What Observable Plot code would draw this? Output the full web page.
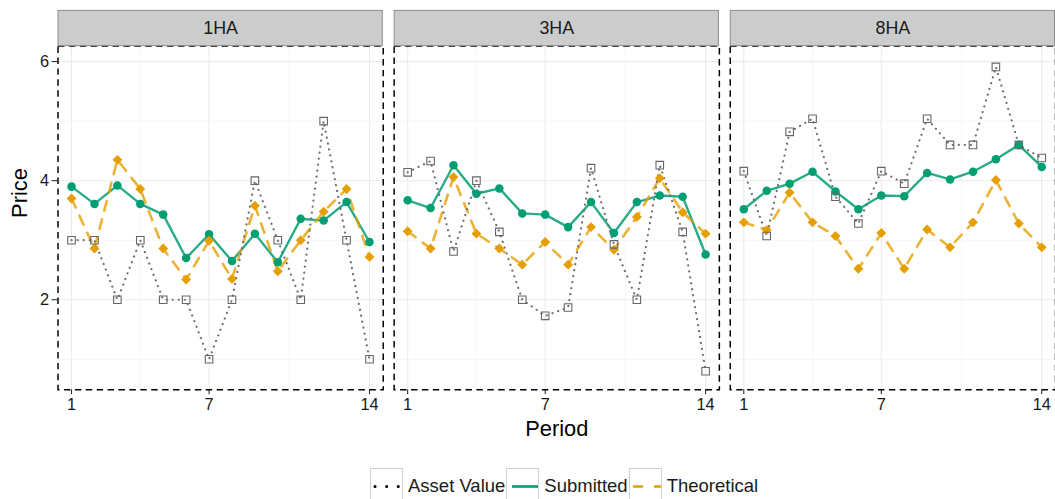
<!DOCTYPE html>
<html><head><meta charset="utf-8">
<script src="https://cdn.jsdelivr.net/npm/d3@7"></script>
<script src="https://cdn.jsdelivr.net/npm/@observablehq/plot@0.6"></script>
<style>
html,body{margin:0;padding:0;background:#fff;overflow:hidden;font-family:"Liberation Sans",Arial,sans-serif}
#chart{position:absolute;left:0;top:0}
#chart svg g[aria-label*="tick label"], #chart svg g[aria-label*="tick label"] text{font-size:16.5px}
#legend{position:absolute;left:370px;top:468px;display:flex;align-items:flex-start;font-size:18.5px;color:#1a1a1a}
.key{width:33px;height:37px;border:1.5px solid #d0d0d0;box-sizing:border-box;position:relative}
.key svg{position:absolute;left:0;top:0}
.lab{margin-left:5px;margin-right:1px;line-height:36px;height:36px}
</style></head><body>
<div id="chart"></div>
<div id="legend"></div>
<script>
// ---- data ----
const panels = ["1HA", "3HA", "8HA"];
const periods = [1, 2, 3, 4, 5, 6, 7, 8, 9, 10, 11, 12, 13, 14];
const seriesNames = ["Asset Value", "Submitted", "Theoretical"];

const asset_1HA       = [3, 3, 2, 3, 2, 2, 1, 2, 4, 3, 2, 5, 3, 1];
const submitted_1HA   = [3.90, 3.61, 3.92, 3.61, 3.43, 2.70, 3.10, 2.65, 3.11, 2.63, 3.36, 3.33, 3.64, 2.97];
const theoretical_1HA = [3.70, 2.86, 4.35, 3.86, 2.86, 2.34, 2.99, 2.35, 3.58, 2.48, 3.00, 3.48, 3.86, 2.72];

const asset_3HA       = [4.14, 4.33, 2.81, 4.00, 3.14, 2.00, 1.73, 1.87, 4.21, 2.93, 2.00, 4.26, 3.14, 0.80];
const submitted_3HA   = [3.67, 3.54, 4.26, 3.78, 3.87, 3.45, 3.43, 3.22, 3.64, 3.12, 3.64, 3.75, 3.73, 2.76];
const theoretical_3HA = [3.15, 2.86, 4.06, 3.11, 2.86, 2.59, 2.97, 2.59, 3.22, 2.84, 3.39, 4.04, 3.47, 3.11];

const asset_8HA       = [4.16, 3.07, 4.82, 5.04, 3.73, 3.28, 4.16, 3.95, 5.04, 4.60, 4.60, 5.91, 4.60, 4.38];
const submitted_8HA   = [3.52, 3.83, 3.95, 4.15, 3.82, 3.52, 3.75, 3.74, 4.13, 4.02, 4.15, 4.36, 4.60, 4.23];
const theoretical_8HA = [3.30, 3.17, 3.80, 3.30, 3.07, 2.52, 3.12, 2.52, 3.18, 2.88, 3.30, 4.01, 3.28, 2.88];

const xTicks = [1, 7, 14];
const xMinorGrid = [4, 10.5];
const yTicks = [2, 4, 6];
const yMinorGrid = [1, 3, 5];

// ---- table ----
const byPanel = {
  "1HA": [asset_1HA, submitted_1HA, theoretical_1HA],
  "3HA": [asset_3HA, submitted_3HA, theoretical_3HA],
  "8HA": [asset_8HA, submitted_8HA, theoretical_8HA]
};
const rows = [];
for (const p of panels) {
  byPanel[p].forEach((vals, si) => {
    vals.forEach((v, i) => rows.push({panel: p, period: periods[i], series: seriesNames[si], value: v}));
  });
}
const S = name => rows.filter(d => d.series === name);

const xDomain = [0.41, 14.6];
const marginTop = 46;

const strip = (index, scales, values, dimensions) => {
  const g = d3.create("svg:g");
  const x1 = scales.x(xDomain[0]), x2 = scales.x(xDomain[1]);
  g.append("rect")
    .attr("x", x1 + 0.5).attr("y", 10.5)
    .attr("width", x2 - x1 - 1).attr("height", marginTop - 10.5)
    .attr("fill", "#cccccc").attr("stroke", "#8c8c8c").attr("stroke-width", 1);
  return g.node();
};

const chart = Plot.plot({
  width: 1064,
  height: 455,
  marginLeft: 57,
  marginRight: 0,
  marginTop: marginTop,
  marginBottom: 62.5,
  style: {fontFamily: "Liberation Sans, Arial, sans-serif", fontSize: "16px", color: "#1a1a1a", background: "white", overflow: "visible"},
  fx: {domain: panels, paddingInner: 0.0325, paddingOuter: 0, axis: null, label: null},
  x: {domain: xDomain, ticks: xTicks, tickSize: 5, tickPadding: 4, label: null, tickFormat: d => String(d)},
  y: {domain: [0.49, 6.26], ticks: yTicks, tickSize: 6, tickPadding: 3, label: null, tickFormat: d => String(d)},
  marks: [
    Plot.ruleY(yMinorGrid, {stroke: "#f4f4f4", strokeWidth: 0.8}),
    Plot.ruleX(xMinorGrid, {stroke: "#f4f4f4", strokeWidth: 0.8}),
    Plot.ruleY(yTicks, {stroke: "#ebebeb", strokeWidth: 1.1}),
    Plot.ruleX(xTicks, {stroke: "#ebebeb", strokeWidth: 1.1}),
    Plot.line(S("Submitted"), {x: "period", y: "value", fx: "panel", stroke: "#009E73", strokeWidth: 2.4, strokeOpacity: 0.85}),
    Plot.line(S("Theoretical"), {x: "period", y: "value", fx: "panel", stroke: "#E69F00", strokeWidth: 2.6, strokeOpacity: 0.8, strokeDasharray: "10,9"}),
    Plot.line(S("Asset Value"), {x: "period", y: "value", fx: "panel", stroke: "#707070", strokeWidth: 2.2, strokeDasharray: "0.1,6", strokeLinecap: "round"}),
    Plot.dot(S("Submitted"), {x: "period", y: "value", fx: "panel", fill: "#009E73", r: 4.3}),
    Plot.dot(S("Theoretical"), {x: "period", y: "value", fx: "panel", fill: "#E69F00", symbol: "diamond2", r: 4.5}),
    Plot.dot(S("Asset Value"), {x: "period", y: "value", fx: "panel", fill: "none", stroke: "#666666", strokeWidth: 1.1, symbol: "square", r: 4.3}),
    Plot.frame({stroke: "#000", strokeWidth: 1.5, strokeDasharray: "6.5,4.5"}),
    strip,
    Plot.text(panels, {fx: d => d, text: d => d, frameAnchor: "top", dy: -18, lineAnchor: "middle", fontSize: 18, fill: "#1a1a1a"}),
    Plot.text(["Period"], {fx: () => "3HA", text: d => d, frameAnchor: "bottom", dy: 40, lineAnchor: "middle", fontSize: 22, fill: "#000"}),
    Plot.text(["Price"], {fx: () => "1HA", text: d => d, frameAnchor: "left", dx: -38, rotate: -90, lineAnchor: "middle", fontSize: 22, fill: "#000"})
  ]
});
document.getElementById("chart").appendChild(chart);

// ---- legend ----
const legendKeys = [
  {name: "Asset Value", stroke: "#000", dash: "0.1,11.5", width: 3, x1: 4, x2: 30, cap: "round"},
  {name: "Submitted", stroke: "#009E73", dash: null, width: 2.6, x1: 5, x2: 31, cap: "butt"},
  {name: "Theoretical", stroke: "#E69F00", dash: "10,11", width: 2.6, x1: 3, x2: 31, cap: "butt"}
];
const leg = d3.select("#legend");
for (const k of legendKeys) {
  const key = leg.append("div").attr("class", "key");
  const s = key.append("svg").attr("width", 33).attr("height", 37);
  const ln = s.append("line").attr("x1", k.x1).attr("x2", k.x2).attr("y1", 17.5).attr("y2", 17.5)
    .attr("stroke", k.stroke).attr("stroke-width", k.width).attr("stroke-linecap", k.cap);
  if (k.dash) ln.attr("stroke-dasharray", k.dash);
  leg.append("div").attr("class", "lab").text(k.name);
}
</script>
</body></html>
